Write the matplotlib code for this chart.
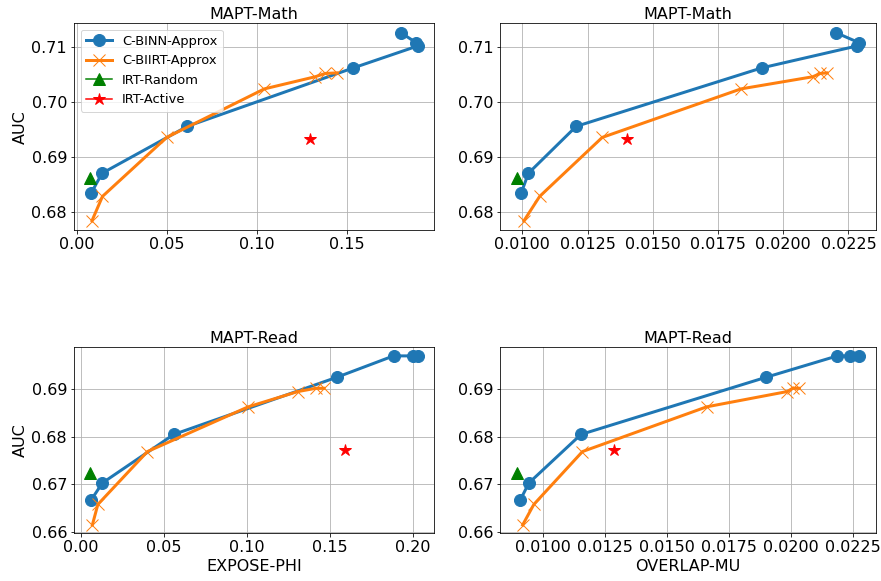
import matplotlib
matplotlib.use("Agg")
import matplotlib.pyplot as plt

# ---- data ----
math_phi_binn = [0.0082, 0.0141, 0.0613, 0.1534, 0.1893, 0.1882, 0.1798]
math_auc_binn = [0.6836, 0.6871, 0.6956, 0.7062, 0.7102, 0.7108, 0.7126]
math_phi_biirt = [0.0085, 0.0143, 0.0499, 0.1041, 0.1323, 0.1379, 0.1443]
math_auc_biirt = [0.6785, 0.6829, 0.6936, 0.7024, 0.7046, 0.7052, 0.7053]
math_phi_rand = [0.0076]
math_auc_rand = [0.6862]
math_phi_act = [0.1295]
math_auc_act = [0.6934]

math_mu_binn = [0.00996, 0.01023, 0.01206, 0.01917, 0.02284, 0.02289, 0.02202]
math_mu_biirt = [0.01006, 0.01066, 0.01306, 0.01838, 0.02113, 0.02142, 0.02168]
math_mu_rand = [0.00981]
math_mu_act = [0.01399]

read_phi_binn = [0.0065, 0.0131, 0.0561, 0.1542, 0.1884, 0.2004, 0.2031]
read_auc_binn = [0.6668, 0.6703, 0.6805, 0.6925, 0.6970, 0.6970, 0.6969]
read_phi_biirt = [0.0071, 0.0104, 0.0402, 0.1009, 0.1307, 0.1417, 0.1466]
read_auc_biirt = [0.6615, 0.6658, 0.6769, 0.6863, 0.6895, 0.6902, 0.6902]
read_phi_rand = [0.0059]
read_auc_rand = [0.6723]
read_phi_act = [0.1592]
read_auc_act = [0.6772]

read_mu_binn = [0.00908, 0.00942, 0.01152, 0.01898, 0.02186, 0.02237, 0.02272]
read_mu_biirt = [0.00917, 0.00962, 0.01158, 0.01659, 0.01983, 0.02006, 0.02033]
read_mu_rand = [0.00896]
read_mu_act = [0.01284]

labels = ["C-BINN-Approx", "C-BIIRT-Approx", "IRT-Random", "IRT-Active"]
titles = ["MAPT-Math", "MAPT-Math", "MAPT-Read", "MAPT-Read"]
phi_ticks = [0.0, 0.05, 0.10, 0.15, 0.20]
mu_ticks = [0.0100, 0.0125, 0.0150, 0.0175, 0.0200, 0.0225]
math_yticks = [0.68, 0.69, 0.70, 0.71]
read_yticks = [0.66, 0.67, 0.68, 0.69]

plt.rcParams['font.family'] = ['DejaVu Sans']
DPI = 72
fig = plt.figure(figsize=(881 / DPI, 581 / DPI), dpi=DPI)

panels = [
    (math_phi_binn, math_auc_binn, math_phi_biirt, math_auc_biirt, math_phi_rand, math_auc_rand, math_phi_act, math_auc_act),
    (math_mu_binn, math_auc_binn, math_mu_biirt, math_auc_biirt, math_mu_rand, math_auc_rand, math_mu_act, math_auc_act),
    (read_phi_binn, read_auc_binn, read_phi_biirt, read_auc_biirt, read_phi_rand, read_auc_rand, read_phi_act, read_auc_act),
    (read_mu_binn, read_auc_binn, read_mu_biirt, read_auc_biirt, read_mu_rand, read_auc_rand, read_mu_act, read_auc_act),
]
rects = [
    [0.084, 0.604, 0.409, 0.356],
    [0.568, 0.604, 0.426, 0.356],
    [0.084, 0.082, 0.409, 0.320],
    [0.568, 0.082, 0.426, 0.320],
]

for i, (p, r) in enumerate(zip(panels, rects)):
    ax = fig.add_axes(r)
    xb, yb, xo, yo, xr, yr, xa, ya = p
    ax.plot(xb, yb, '-o', color='#1f77b4', lw=3, ms=12, label=labels[0])
    ax.plot(xo, yo, '-x', color='#ff7f0e', lw=3, ms=12, mew=1.0, label=labels[1])
    ax.plot(xr, yr, '-^', color='green', ms=12, label=labels[2])
    ax.plot(xa, ya, '-*', color='red', ms=12, label=labels[3])
    ax.grid(True)
    ax.set_title(titles[i], fontsize=16, pad=4)
    ax.tick_params(labelsize=16)
    if i % 2 == 0:
        ax.set_ylabel("AUC", fontsize=16)
    if i == 2:
        ax.set_xlabel("EXPOSE-PHI", fontsize=16)
    if i == 3:
        ax.set_xlabel("OVERLAP-MU", fontsize=16)
    if i == 0:
        ax.legend(loc='upper left', fontsize=13)
    if i == 0:
        ax.set_xticks(phi_ticks[:4])
    elif i == 2:
        ax.set_xticks(phi_ticks)
    else:
        ax.set_xticks(mu_ticks)
    ax.set_yticks(math_yticks if i < 2 else read_yticks)

fig.savefig("out.png", dpi=DPI)
